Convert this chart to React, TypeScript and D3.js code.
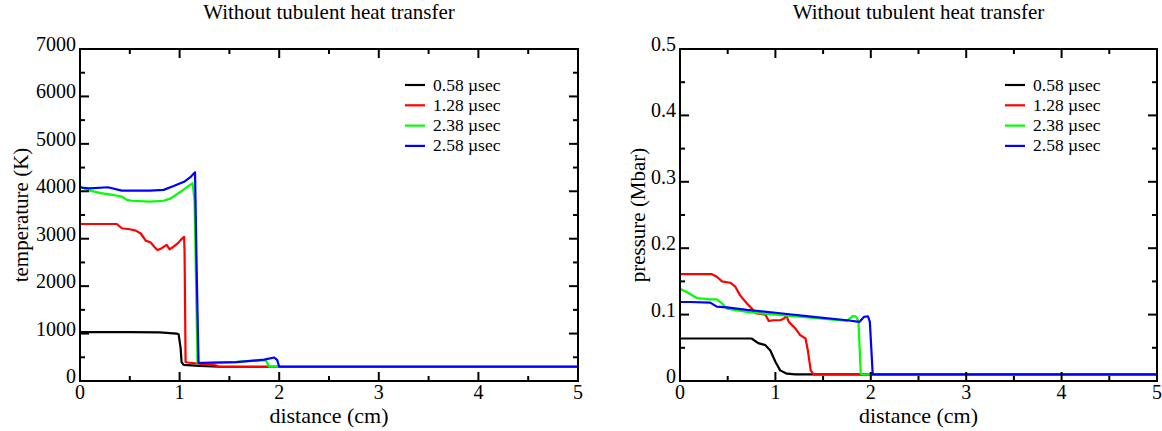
import React from "react";
import * as d3 from "d3";

// ---- data ----
const legendLabels = ["0.58 µsec", "1.28 µsec", "2.38 µsec", "2.58 µsec"];
const xTicks = [0, 1, 2, 3, 4, 5];
const tempTicks = [0, 1000, 2000, 3000, 4000, 5000, 6000, 7000];
const pressTicks = [0, 0.1, 0.2, 0.3, 0.4, 0.5];
const pressTickLabels = ["0", "0.1", "0.2", "0.3", "0.4", "0.5"];

type Pt = [number, number];

const temp058: Pt[] = [
  [0, 1030], [0.5, 1030], [0.8, 1025], [0.97, 1000], [0.99, 985], [1.01, 700],
  [1.02, 400], [1.04, 340], [1.2, 320], [1.4, 300], [5, 300],
];
const temp128: Pt[] = [
  [0, 3310], [0.37, 3310], [0.42, 3220], [0.5, 3200], [0.56, 3170], [0.61, 3110],
  [0.66, 2960], [0.71, 2920], [0.75, 2820], [0.78, 2760], [0.82, 2800], [0.87, 2870],
  [0.9, 2775], [0.93, 2820], [0.98, 2900], [1.01, 2970], [1.045, 3040], [1.05, 2700],
  [1.06, 400], [1.08, 390], [1.36, 330], [1.4, 300], [5, 300],
];
const temp238: Pt[] = [
  [0, 4100], [0.07, 4030], [0.21, 3960], [0.28, 3940], [0.42, 3890], [0.47, 3820],
  [0.52, 3800], [0.7, 3780], [0.84, 3800], [0.91, 3850], [1.01, 3990], [1.08, 4100],
  [1.13, 4170], [1.15, 3800], [1.18, 370], [1.22, 385], [1.55, 400], [1.85, 440],
  [1.87, 420], [1.9, 300], [5, 300],
];
const temp258: Pt[] = [
  [0, 4080], [0.1, 4060], [0.28, 4085], [0.42, 4015], [0.7, 4015], [0.84, 4030],
  [0.94, 4110], [1.045, 4200], [1.115, 4310], [1.155, 4400], [1.17, 2500], [1.19, 380],
  [1.57, 400], [1.85, 450], [1.95, 495], [1.98, 440], [2.0, 300], [5, 300],
];

const press058: Pt[] = [
  [0, 0.064], [0.75, 0.064], [0.82, 0.057], [0.895, 0.054], [0.947, 0.046], [1.0, 0.029],
  [1.05, 0.016], [1.12, 0.011], [1.21, 0.01], [5, 0.01],
];
const press128: Pt[] = [
  [0, 0.161], [0.33, 0.161], [0.386, 0.157], [0.44, 0.15], [0.526, 0.148], [0.58, 0.142],
  [0.63, 0.129], [0.7, 0.117], [0.754, 0.109], [0.79, 0.102], [0.84, 0.101], [0.895, 0.1],
  [0.93, 0.0905], [0.98, 0.0915], [1.05, 0.0915], [1.09, 0.094], [1.115, 0.099], [1.14, 0.089],
  [1.21, 0.079], [1.26, 0.069], [1.316, 0.064], [1.34, 0.046], [1.37, 0.016], [1.4, 0.01],
  [5, 0.01],
];
const press238: Pt[] = [
  [0, 0.139], [0.07, 0.134], [0.175, 0.125], [0.316, 0.123], [0.386, 0.123], [0.44, 0.117],
  [0.49, 0.109], [0.7, 0.104], [1.0, 0.1], [1.4, 0.095], [1.75, 0.0905], [1.81, 0.0976],
  [1.84, 0.0975], [1.87, 0.091], [1.895, 0.011], [1.91, 0.01], [5, 0.01],
];
const press258: Pt[] = [
  [0, 0.119], [0.105, 0.119], [0.316, 0.118], [0.386, 0.112], [0.49, 0.111], [0.7, 0.107],
  [1.05, 0.102], [1.4, 0.0966], [1.75, 0.0915], [1.88, 0.089], [1.93, 0.0966], [1.97, 0.0975],
  [1.99, 0.089], [2.02, 0.01], [5, 0.01],
];

const colors = ["#000000", "#ff0000", "#00ff00", "#0000ff"];
const FONT = "'Liberation Serif', 'DejaVu Serif', serif";

interface PanelProps {
  left: number;
  width: number;
  title: string;
  yLabel: string;
  yLabelGap: number;
  yMax: number;
  yTicks: number[];
  yTickLabels: string[];
  yMinorStep: number;
  series: Pt[][];
}

const TOP = 49;
const BOTTOM = 381;

function Panel({ left, width, title, yLabel, yLabelGap, yMax, yTicks, yTickLabels, yMinorStep, series }: PanelProps) {
  const right = left + width;
  const x = d3.scaleLinear().domain([0, 5]).range([left, right]);
  const y = d3.scaleLinear().domain([0, yMax]).range([BOTTOM, TOP]);
  const line = d3
    .line<Pt>()
    .x((d) => x(d[0]))
    .y((d) => y(d[1]));

  const xMinor = d3.range(0.5, 5, 1);
  const yMinor = d3.range(yMinorStep, yMax, yMinorStep * 2);
  const majorLen = 9;
  const minorLen = 5;
  const cx = (left + right) / 2;

  return (
    <g>
      <defs>
        <clipPath id={`clip-${left}`}>
          <rect x={left} y={TOP} width={width} height={BOTTOM - TOP} />
        </clipPath>
      </defs>
      <text x={cx} y={19} textAnchor="middle" fontFamily={FONT} fontSize={21} fill="#000">
        {title}
      </text>

      <g clipPath={`url(#clip-${left})`}>
        {series.map((s, i) => (
          <path key={i} d={line(s) ?? ""} fill="none" stroke={colors[i]} strokeWidth={2.2} strokeLinejoin="round" />
        ))}
      </g>

      {/* ticks on all four sides, pointing inward */}
      <g stroke="#000" strokeWidth={2}>
        {xTicks.map((t) => (
          <g key={`xt${t}`}>
            <line x1={x(t)} x2={x(t)} y1={BOTTOM} y2={BOTTOM - majorLen} />
            <line x1={x(t)} x2={x(t)} y1={TOP} y2={TOP + majorLen} />
          </g>
        ))}
        {xMinor.map((t) => (
          <g key={`xm${t}`}>
            <line x1={x(t)} x2={x(t)} y1={BOTTOM} y2={BOTTOM - minorLen} />
            <line x1={x(t)} x2={x(t)} y1={TOP} y2={TOP + minorLen} />
          </g>
        ))}
        {yTicks.map((t) => (
          <g key={`yt${t}`}>
            <line x1={left} x2={left + majorLen} y1={y(t)} y2={y(t)} />
            <line x1={right} x2={right - majorLen} y1={y(t)} y2={y(t)} />
          </g>
        ))}
        {yMinor.map((t) => (
          <g key={`ym${t}`}>
            <line x1={left} x2={left + minorLen} y1={y(t)} y2={y(t)} />
            <line x1={right} x2={right - minorLen} y1={y(t)} y2={y(t)} />
          </g>
        ))}
      </g>

      <rect x={left} y={TOP} width={width} height={BOTTOM - TOP} fill="none" stroke="#000" strokeWidth={2} />

      <g fontFamily={FONT} fontSize={20} fill="#000">
        {xTicks.map((t) => (
          <text key={`xl${t}`} x={x(t)} y={399} textAnchor="middle">
            {t}
          </text>
        ))}
        {yTicks.map((t, i) => (
          <text key={`yl${t}`} x={left - 4} y={y(t) + 2} textAnchor="end">
            {yTickLabels[i]}
          </text>
        ))}
      </g>

      <text x={cx} y={423} textAnchor="middle" fontFamily={FONT} fontSize={22} fill="#000">
        distance (cm)
      </text>
      <text
        transform={`translate(${left - yLabelGap},${(TOP + BOTTOM) / 2}) rotate(-90)`}
        textAnchor="middle"
        fontFamily={FONT}
        fontSize={21}
        fill="#000"
      >
        {yLabel}
      </text>

      {/* legend */}
      <g fontFamily={FONT} fontSize={17.5} fill="#000">
        {legendLabels.map((lab, i) => {
          const ly = 85 + i * 20.3;
          return (
            <g key={lab}>
              <line x1={left + 325} x2={left + 345} y1={ly} y2={ly} stroke={colors[i]} strokeWidth={2.2} />
              <text x={left + 353} y={ly + 5.5}>
                {lab}
              </text>
            </g>
          );
        })}
      </g>
    </g>
  );
}

export default function App() {
  return (
    <svg
      width={1162}
      height={431}
      viewBox="0 0 1162 431"
      style={{ position: "absolute", left: 0, top: 0, background: "#fff" }}
    >
      <rect width={1162} height={431} fill="#fff" />
      <Panel
        left={80}
        width={498}
        title="Without tubulent heat transfer"
        yLabel="temperature (K)"
        yLabelGap={52}
        yMax={7000}
        yTicks={tempTicks}
        yTickLabels={tempTicks.map(String)}
        yMinorStep={500}
        series={[temp058, temp128, temp238, temp258]}
      />
      <Panel
        left={680}
        width={477}
        title="Without tubulent heat transfer"
        yLabel="pressure (Mbar)"
        yLabelGap={35}
        yMax={0.5}
        yTicks={pressTicks}
        yTickLabels={pressTickLabels}
        yMinorStep={0.05}
        series={[press058, press128, press238, press258]}
      />
    </svg>
  );
}
